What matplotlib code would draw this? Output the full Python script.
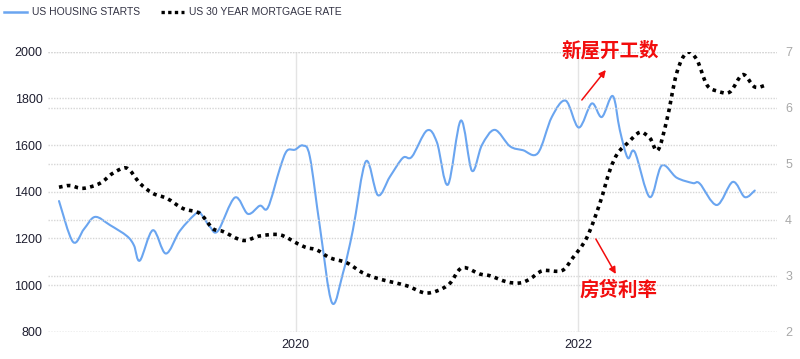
import matplotlib
matplotlib.use("Agg")
import matplotlib.pyplot as plt
from matplotlib.path import Path
from matplotlib.patches import PathPatch
from matplotlib.lines import Line2D
import numpy as np

plt.rcParams['font.family'] = ['Liberation Sans', 'DejaVu Sans']

# ---- data (x in decimal years) ----
housing_t = [2018.324, 2018.423, 2018.501, 2018.579, 2018.685, 2018.805, 2018.855, 2018.897,
             2018.989, 2019.081, 2019.180, 2019.301, 2019.336, 2019.393, 2019.450, 2019.570,
             2019.662, 2019.747, 2019.804, 2019.889, 2019.938, 2019.995, 2020.052, 2020.101,
             2020.172, 2020.257, 2020.335, 2020.406, 2020.498, 2020.583, 2020.668, 2020.760,
             2020.824, 2020.930, 2021.001, 2021.079, 2021.171, 2021.249, 2021.320, 2021.411,
             2021.518, 2021.610, 2021.716, 2021.815, 2021.914, 2022.006, 2022.098, 2022.169,
             2022.247, 2022.297, 2022.353, 2022.403, 2022.509, 2022.594, 2022.700, 2022.814,
             2022.863, 2022.984, 2023.097, 2023.182, 2023.253]
housing_v = [1360, 1185, 1240, 1292, 1257, 1210, 1170, 1105,
             1235, 1135, 1232, 1310, 1300, 1250, 1232, 1375,
             1305, 1340, 1332, 1500, 1575, 1580, 1598, 1550,
             1250, 925, 1050, 1236, 1530, 1385, 1464, 1545,
             1550, 1662, 1612, 1430, 1705, 1490, 1600, 1665,
             1595, 1578, 1565, 1720, 1790, 1675, 1778, 1720,
             1810, 1664, 1545, 1570, 1377, 1512, 1460, 1437,
             1435, 1343, 1442, 1377, 1405]

mortgage_t = [2018.324, 2018.402, 2018.494, 2018.614, 2018.706, 2018.805, 2018.897, 2018.989,
              2019.089, 2019.202, 2019.322, 2019.414, 2019.485, 2019.627, 2019.747, 2019.889,
              2020.016, 2020.080, 2020.151, 2020.243, 2020.363, 2020.477, 2020.597, 2020.788,
              2020.930, 2021.079, 2021.178, 2021.305, 2021.376, 2021.496, 2021.589, 2021.659,
              2021.751, 2021.886, 2021.964, 2022.063, 2022.155, 2022.226, 2022.283, 2022.353,
              2022.438, 2022.509, 2022.566, 2022.630, 2022.700, 2022.771, 2022.842, 2022.913,
              2022.984, 2023.076, 2023.168, 2023.253, 2023.338]
mortgage_v = [4.58, 4.61, 4.56, 4.65, 4.83, 4.92, 4.65, 4.47,
              4.38, 4.20, 4.11, 3.84, 3.79, 3.63, 3.71, 3.73,
              3.57, 3.50, 3.46, 3.32, 3.23, 3.05, 2.94, 2.82,
              2.69, 2.83, 3.14, 3.03, 3.00, 2.89, 2.87, 2.94,
              3.09, 3.09, 3.32, 3.68, 4.29, 4.88, 5.19, 5.37,
              5.56, 5.46, 5.24, 5.78, 6.62, 6.98, 6.86, 6.41,
              6.30, 6.28, 6.59, 6.37, 6.41]

left_ticks = [800, 1000, 1200, 1400, 1600, 1800, 2000]
right_ticks = [2, 3, 4, 5, 6, 7]
x_ticks = [2020, 2022]
x_labels = ['2020', '2022']
series_names = ['US HOUSING STARTS', 'US 30 YEAR MORTGAGE RATE']

BLUE = '#6aa5f0'
RED = '#f20d0d'


def smooth_path(xs, ys):
    """Catmull-Rom curve through the points, as cubic Bezier path (rendering only)."""
    p = np.column_stack([xs, ys]).astype(float)
    n = len(p)
    verts = [p[0]]
    codes = [Path.MOVETO]
    for i in range(n - 1):
        p0 = p[i - 1] if i > 0 else p[i]
        p1 = p[i]
        p2 = p[i + 1]
        p3 = p[i + 2] if i + 2 < n else p[i + 1]
        c1 = p1 + (p2 - p0) / 6.0
        c2 = p2 - (p3 - p1) / 6.0
        verts += [c1, c2, p2]
        codes += [Path.CURVE4] * 3
    return Path(verts, codes)


fig = plt.figure(figsize=(8, 3.59), dpi=100)
ax = fig.add_axes([0.06, 0.076, 0.911, 0.78])
ax2 = ax.twinx()

ax.set_xlim(2018.246, 2023.409)
ax.set_ylim(800, 2000)
ax2.set_ylim(2, 7)

for a in (ax, ax2):
    for s in a.spines.values():
        s.set_visible(False)
    a.tick_params(length=0)

ax.set_yticks(left_ticks)
ax.set_yticklabels([str(t) for t in left_ticks], fontsize=9, color='#1e1e30')
ax2.set_yticks(right_ticks)
ax2.set_yticklabels([str(t) for t in right_ticks], fontsize=9, color='#a8a8a8')
ax.set_xticks(x_ticks)
ax.set_xticklabels(x_labels, fontsize=9, color='#1e1e30')
ax.tick_params(axis='y', pad=4)
ax2.tick_params(axis='y', pad=6)
ax.tick_params(axis='x', pad=5)

ax.grid(axis='y', color='#d6d6d6', linewidth=1.0, linestyle=(0, (1, 1)))
ax2.grid(axis='y', color='#d6d6d6', linewidth=1.0, linestyle=(0, (1, 1)))
ax.grid(axis='x', color='#e4e4e4', linewidth=1.0)
ax.set_axisbelow(True)
ax2.set_axisbelow(True)

hp = PathPatch(smooth_path(housing_t, housing_v), facecolor='none', edgecolor=BLUE,
               linewidth=1.5, capstyle='round', joinstyle='round')
ax.add_patch(hp)
mp = PathPatch(smooth_path(mortgage_t, mortgage_v), facecolor='none', edgecolor='black',
               linewidth=2.6, linestyle=(0, (1, 1.2)))
ax2.add_patch(mp)

handles = [Line2D([], [], color=BLUE, linewidth=1.8),
           Line2D([], [], color='black', linewidth=2.4, linestyle=(0, (1, 1)))]
fig.legend(handles, series_names, loc='upper left', bbox_to_anchor=(-0.004, 1.0),
           ncol=2, frameon=False, fontsize=7.5, handlelength=2.2, handletextpad=0.5,
           columnspacing=2.0, labelcolor='#333344', borderaxespad=0.3)

cjk = ['Noto Sans CJK SC', 'DejaVu Sans']
ax2.text(0.772, 1.0025, '新屋开工数', transform=ax2.transAxes, ha='center', va='center',
         fontsize=14, color=RED, family=cjk, fontweight='bold')
ax2.annotate('', xy=(0.7654, 0.9346), xytext=(0.7325, 0.8275),
             xycoords='axes fraction', textcoords='axes fraction',
             arrowprops=dict(arrowstyle='-|>', color=RED, lw=1.1, mutation_scale=10,
                             shrinkA=0, shrinkB=0))
ax2.text(0.7826, 0.1489, '房贷利率', transform=ax2.transAxes, ha='center', va='center',
         fontsize=14, color=RED, family=cjk, fontweight='bold')
ax2.annotate('', xy=(0.7791, 0.2061), xytext=(0.7517, 0.3311),
             xycoords='axes fraction', textcoords='axes fraction',
             arrowprops=dict(arrowstyle='-|>', color=RED, lw=1.1, mutation_scale=10,
                             shrinkA=0, shrinkB=0))

fig.savefig('out.png', dpi=100)
